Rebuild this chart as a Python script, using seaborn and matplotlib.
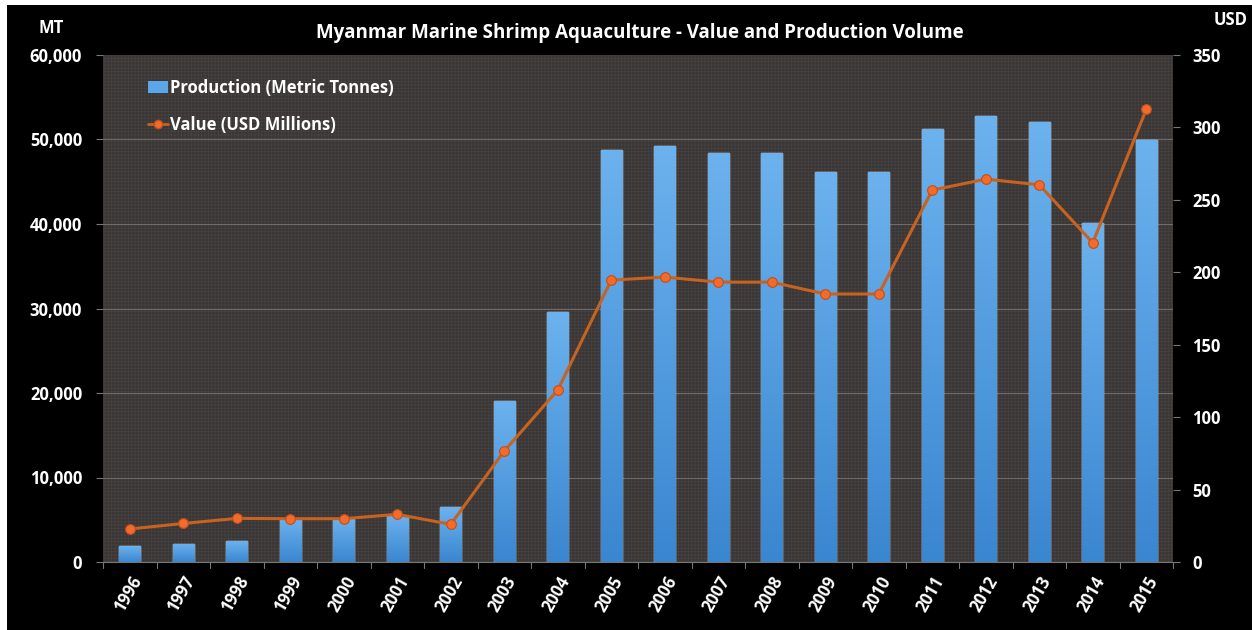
import numpy as np
import pandas as pd
import matplotlib
matplotlib.use("Agg")
import matplotlib.pyplot as plt
import seaborn as sns
from matplotlib.patches import Rectangle
from matplotlib.lines import Line2D
from matplotlib.patches import Patch

years = ["1996", "1997", "1998", "1999", "2000", "2001", "2002", "2003", "2004", "2005",
         "2006", "2007", "2008", "2009", "2010", "2011", "2012", "2013", "2014", "2015"]
production = [1850, 2150, 2450, 5100, 5100, 5450, 6500, 19100, 29600, 48700,
              49200, 48400, 48400, 46150, 46150, 51300, 52800, 52100, 40100, 49950]
value_usd = [22.8, 26.6, 30.1, 29.9, 29.9, 32.9, 26.0, 76.6, 118.7, 194.6,
             196.7, 193.2, 193.2, 185.0, 185.0, 256.7, 264.3, 260.4, 220.4, 312.4]
left_ticks = [0, 10000, 20000, 30000, 40000, 50000, 60000]
right_ticks = [0, 50, 100, 150, 200, 250, 300, 350]
title = "Myanmar Marine Shrimp Aquaculture - Value and Production Volume"

sns.set_theme(style="dark")
plt.rcParams['font.family'] = ['Open Sans', 'DejaVu Sans']
plt.rcParams['hatch.linewidth'] = 0.5

W, H = 1252, 630
fig = plt.figure(figsize=(W / 100, H / 100), dpi=100, facecolor="white")
fig.patches.append(Rectangle((7 / W, 0), 1 - 7 / W, 1 - 5 / H, transform=fig.transFigure,
                             facecolor="black", edgecolor="none", zorder=-10))

ax = fig.add_axes([103 / W, 1 - 562 / H, (1173 - 103) / W, (562 - 55) / H])
ax.set_facecolor("#3a3636")
ax.add_patch(Rectangle((0, 0), 1, 1, transform=ax.transAxes, facecolor="#3a3636",
                       edgecolor="#474242", hatch="+++++", lw=0, zorder=0))

df = pd.DataFrame({"year": years, "production": production, "value": value_usd})
sns.barplot(data=df, x="year", y="production", ax=ax, color="#4f9de0", width=0.4,
            saturation=1, zorder=3)

# gradient fill for bars
grad = np.linspace(0, 1, 256).reshape(-1, 1)
cmap = matplotlib.colors.LinearSegmentedColormap.from_list("g", ["#3a86d0", "#6cb2ee"])
for p in list(ax.patches):
    if p.get_height() > 0 and p.get_width() < 1:
        x0, y0 = p.get_x(), p.get_y()
        im = ax.imshow(grad, extent=[x0, x0 + p.get_width(), y0, y0 + p.get_height()],
                       origin="lower", cmap=cmap, aspect="auto", zorder=3.5)
        im.set_clip_path(p)

ax.set_xlim(-0.5, len(years) - 0.5)
ax.set_ylim(0, 60000)
ax.set_yticks(left_ticks)
ax.set_yticklabels([f"{t:,}" for t in left_ticks])
ax.grid(False)
for t in left_ticks[1:-1]:
    ax.axhline(t, color="#6e6a6a", lw=0.8, zorder=1)
ax.set_xlabel("")
ax.set_ylabel("")

ax2 = ax.twinx()
sns.lineplot(x=np.arange(len(years)), y=value_usd, ax=ax2, color="#c8621f", lw=2.2,
             marker="o", markersize=7, markerfacecolor="#f36a2a",
             markeredgecolor="#c0501a", markeredgewidth=0.8, zorder=5)
ax2.set_ylim(0, 350)
ax2.set_yticks(right_ticks)
ax2.set_xlim(-0.5, len(years) - 0.5)
ax2.grid(False)

for a in (ax, ax2):
    for s in a.spines.values():
        s.set_visible(False)

ax.set_xticks(np.arange(len(years)))
ax.set_xticklabels(years, rotation=60, ha="right", rotation_mode="anchor",
                   color="white", fontweight="bold", fontsize=12)
ax.tick_params(axis="x", length=0, pad=8)
# category boundary tick marks
for i in range(len(years) + 1):
    ax.plot([i - 0.5, i - 0.5], [0, -0.012], transform=ax.get_xaxis_transform(),
            color="#777", lw=0.8, clip_on=False)
ax.plot([-0.5, len(years) - 0.5], [0, 0], transform=ax.get_xaxis_transform(),
        color="#777", lw=0.8, clip_on=False, zorder=6)

ax.tick_params(axis="y", left=True, length=5, width=0.8, color="#777", pad=10,
               labelcolor="white", labelsize=12)
for lbl in ax.get_yticklabels():
    lbl.set_fontweight("bold")
ax2.tick_params(axis="y", right=True, length=5, width=0.8, color="#777", pad=9,
                labelcolor="white", labelsize=12)
for lbl in ax2.get_yticklabels():
    lbl.set_fontweight("bold")

fig.text(640 / W, 1 - 33 / H, title, color="white", fontsize=13.5, fontweight="bold",
         ha="center", va="center")
fig.text(38 / W, 1 - 28 / H, "MT", color="white", fontsize=12, fontweight="bold",
         ha="left", va="center")
fig.text(1214 / W, 1 - 20 / H, "USD", color="white", fontsize=12, fontweight="bold",
         ha="left", va="center")

handles = [Patch(facecolor="#5aa6e8", edgecolor="none"),
           Line2D([], [], color="#c8621f", lw=2, marker="o", markersize=6,
                  markerfacecolor="#f36a2a", markeredgecolor="#c0501a")]
leg = ax2.legend(handles, ["Production (Metric Tonnes)", "Value (USD Millions)"],
                 loc="upper left", bbox_to_anchor=(0.028, 0.982), frameon=False,
                 labelspacing=1.15, handlelength=1.2, handletextpad=0.1,
                 prop={"weight": "bold", "size": 12})
for t in leg.get_texts():
    t.set_color("white")

fig.savefig("out.png", dpi=100, facecolor=fig.get_facecolor())
